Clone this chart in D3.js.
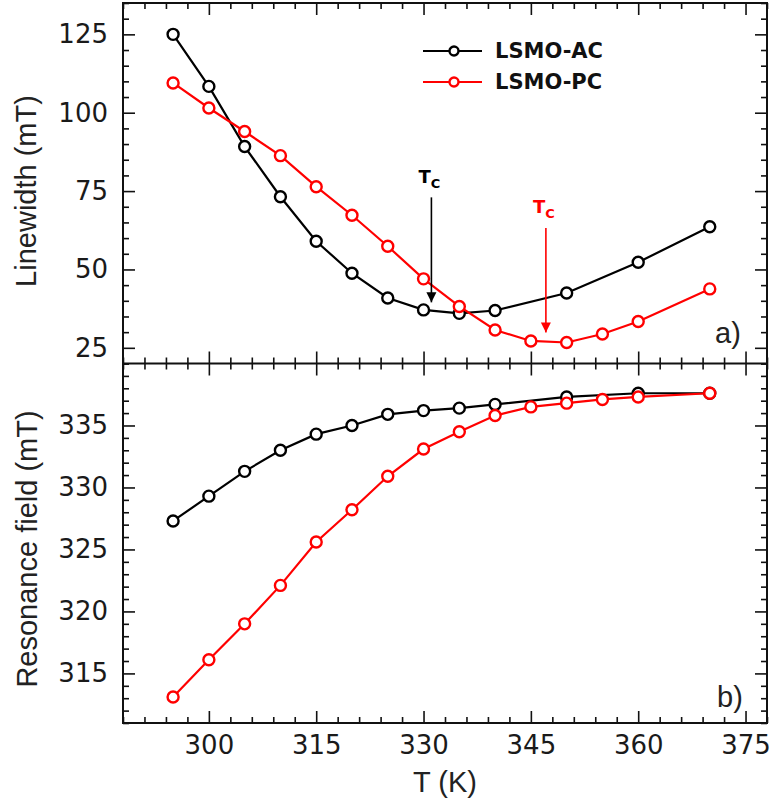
<!DOCTYPE html>
<html>
<head>
<meta charset="utf-8">
<script src="https://cdn.jsdelivr.net/npm/d3@7"></script>
<style>
  body { margin: 0; background: #fff; }
  svg { display: block; }
  .tick text { font-family: "DejaVu Sans", sans-serif; fill: #1a1a1a; }
</style>
</head>
<body>
<div id="chart"></div>
<script>
// data
var tempAC = [295, 300, 305, 310, 315, 320, 325, 330, 335, 340, 350, 360, 370];
var tempPC = [295, 300, 305, 310, 315, 320, 325, 330, 335, 340, 345, 350, 355, 360, 370];
var linewidthAC = [125, 108.4, 89.2, 73.2, 59, 48.8, 40.9, 37.1, 36, 36.9, 42.5, 52.3, 63.6];
var linewidthPC = [109.5, 101.5, 94, 86.3, 76.4, 67.3, 57.4, 47, 38.2, 30.7, 27.2, 26.7, 29.4, 33.4, 43.8];
var fieldAC = [327.3, 329.3, 331.3, 333.0, 334.3, 335.0, 335.9, 336.2, 336.4, 336.7, 337.3, 337.6, 337.6];
var fieldPC = [313.1, 316.1, 319.0, 322.1, 325.6, 328.2, 330.9, 333.1, 334.5, 335.8, 336.5, 336.8, 337.1, 337.3, 337.6];
var xTicks = [300, 315, 330, 345, 360, 375];
var lwTicks = [25, 50, 75, 100, 125];
var fieldTicks = [315, 320, 325, 330, 335];
var seriesNames = ["LSMO-AC", "LSMO-PC"];
var seriesColors = ["#000000", "#ff0000"];
// Tc arrows: x, arrow start, arrow tip (linewidth units)
var tcX = [331.1, 347.1];
var tcFrom = [73, 63.2];
var tcTo = [39.5, 29.9];
var tcLabelY = [77.6, 68];

var width = 774, height = 807;
var mLeft = 123, mRight = 767, mTop = 3, mMid = 363.5, mBottom = 723;

var svg = d3.select("#chart").append("svg")
    .attr("width", width)
    .attr("height", height);

var x = d3.scaleLinear().domain([288, 378]).range([mLeft, mRight]);
var yTop = d3.scaleLinear().domain([20, 135]).range([mMid, mTop]);
var yBot = d3.scaleLinear().domain([311, 340]).range([mBottom, mMid]);

var minorX = d3.range(288, 379, 3).filter(t => xTicks.indexOf(t) < 0);
var minorTop = d3.range(20, 136, 5).filter(t => lwTicks.indexOf(t) < 0);
var minorBot = d3.range(311, 341, 1).filter(t => fieldTicks.indexOf(t) < 0);

function styleAxis(g) {
    g.select(".domain").remove();
    g.selectAll(".tick line").attr("stroke", "#111").attr("stroke-width", 1.6);
}

function panel(y, major, minor) {
    // x ticks, top and bottom of the panel, pointing in
    [[d3.axisBottom, y.range()[0]], [d3.axisTop, y.range()[1]]].forEach(function (a) {
        svg.append("g").attr("transform", "translate(0," + a[1] + ")")
            .call(a[0](x).tickValues(xTicks).tickSize(-12).tickFormat(""))
            .call(styleAxis);
        svg.append("g").attr("transform", "translate(0," + a[1] + ")")
            .call(a[0](x).tickValues(minorX).tickSize(-6).tickFormat(""))
            .call(styleAxis);
    });
    // y ticks left (labelled) and right
    svg.append("g").attr("transform", "translate(" + mLeft + ",0)")
        .call(d3.axisLeft(y).tickValues(major).tickSize(-12))
        .call(styleAxis)
        .call(g => g.selectAll(".tick text").style("font-size", "26px").attr("x", -15));
    svg.append("g").attr("transform", "translate(" + mLeft + ",0)")
        .call(d3.axisLeft(y).tickValues(minor).tickSize(-6).tickFormat(""))
        .call(styleAxis);
    svg.append("g").attr("transform", "translate(" + mRight + ",0)")
        .call(d3.axisRight(y).tickValues(major).tickSize(-12).tickFormat(""))
        .call(styleAxis);
    svg.append("g").attr("transform", "translate(" + mRight + ",0)")
        .call(d3.axisRight(y).tickValues(minor).tickSize(-6).tickFormat(""))
        .call(styleAxis);
}

panel(yTop, lwTicks, minorTop);
panel(yBot, fieldTicks, minorBot);

// x tick labels under the lower panel
svg.append("g").attr("transform", "translate(0," + mBottom + ")")
    .call(d3.axisBottom(x).tickValues(xTicks).tickSize(0).tickPadding(13))
    .call(g => g.select(".domain").remove())
    .call(g => g.selectAll(".tick text").style("font-size", "26px"));

// frames
svg.append("rect").attr("x", mLeft).attr("y", mTop)
    .attr("width", mRight - mLeft).attr("height", mBottom - mTop)
    .attr("fill", "none").attr("stroke", "#111").attr("stroke-width", 2);
svg.append("line").attr("x1", mLeft).attr("x2", mRight).attr("y1", mMid).attr("y2", mMid)
    .attr("stroke", "#111").attr("stroke-width", 2);

function series(xs, ys, y, color) {
    var pts = xs.map((t, i) => [t, ys[i]]);
    var line = d3.line().x(d => x(d[0])).y(d => y(d[1]));
    svg.append("path").datum(pts).attr("d", line)
        .attr("fill", "none").attr("stroke", color).attr("stroke-width", 2.2);
    svg.append("g").selectAll("circle").data(pts).enter().append("circle")
        .attr("cx", d => x(d[0])).attr("cy", d => y(d[1])).attr("r", 5.5)
        .attr("fill", "#fff").attr("stroke", color).attr("stroke-width", 2.4);
}

series(tempAC, linewidthAC, yTop, seriesColors[0]);
series(tempPC, linewidthPC, yTop, seriesColors[1]);
series(tempAC, fieldAC, yBot, seriesColors[0]);
series(tempPC, fieldPC, yBot, seriesColors[1]);

// Tc arrows
var defs = svg.append("defs");
seriesColors.forEach(function (c, i) {
    defs.append("marker").attr("id", "arr" + i)
        .attr("viewBox", "0 0 10 10").attr("refX", 10).attr("refY", 5)
        .attr("markerWidth", 10).attr("markerHeight", 11)
        .attr("markerUnits", "userSpaceOnUse").attr("orient", "auto")
        .append("path").attr("d", "M0,0L10,5L0,10Z").attr("fill", c);
    svg.append("line")
        .attr("x1", x(tcX[i])).attr("x2", x(tcX[i]))
        .attr("y1", yTop(tcFrom[i])).attr("y2", yTop(tcTo[i]))
        .attr("stroke", c).attr("stroke-width", 1.6)
        .attr("marker-end", "url(#arr" + i + ")");
    var t = svg.append("text")
        .attr("x", x(tcX[i]) - 13).attr("y", yTop(tcLabelY[i]))
        .attr("font-family", "DejaVu Sans, sans-serif").attr("font-weight", 700)
        .style("font-size", "18px").attr("fill", c);
    t.append("tspan").text("T");
    t.append("tspan").style("font-size", "13px").attr("dy", 5).text("C");
});

// legend
var legend = svg.append("g").attr("transform", "translate(423,51)");
seriesNames.forEach(function (name, i) {
    var g = legend.append("g").attr("transform", "translate(0," + i * 31 + ")");
    g.append("line").attr("x1", 0).attr("x2", 59)
        .attr("stroke", seriesColors[i]).attr("stroke-width", 2.2);
    g.append("circle").attr("cx", 31).attr("r", 4.5)
        .attr("fill", "#fff").attr("stroke", seriesColors[i]).attr("stroke-width", 2.4);
    g.append("text").attr("x", 72).attr("y", 7)
        .attr("font-family", "DejaVu Sans, sans-serif").attr("font-weight", 700)
        .style("font-size", "21px").attr("fill", "#111").text(name);
});

// panel labels
function txt(s, px, py, anchor, rot) {
    var t = svg.append("text").text(s).attr("text-anchor", anchor || "start")
        .attr("font-family", "Liberation Sans, Arial, sans-serif")
        .style("font-size", "29px").attr("fill", "#222");
    if (rot) t.attr("transform", "translate(" + px + "," + py + ") rotate(-90)");
    else t.attr("x", px).attr("y", py);
    return t;
}
txt("a)", 715, 343);
txt("b)", 717, 707);
txt("T (K)", (mLeft + mRight) / 2, 792, "middle");
txt("Linewidth (mT)", 36, 191, "middle", true);
txt("Resonance field (mT)", 37, 549, "middle", true);
</script>
</body>
</html>
